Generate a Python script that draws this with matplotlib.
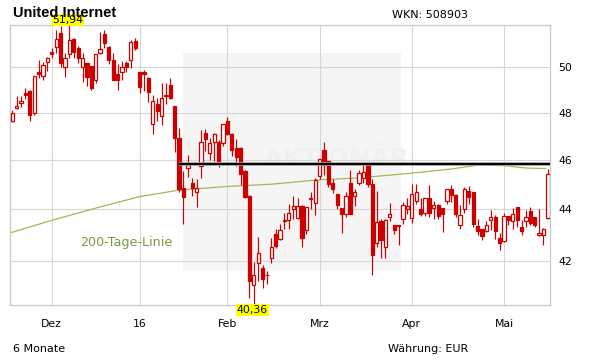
import matplotlib
matplotlib.use('Agg')
import matplotlib.pyplot as plt
import matplotlib.transforms as mtransforms
from matplotlib.patches import Rectangle
from matplotlib.ticker import NullLocator, FixedLocator
import numpy as np

W, H = 611, 364

opens = [47.64, 48.18, 48.41, 48.84, 48.92, 47.98, 49.78, 49.62, 50.23, 50.68,
         50.93, 51.56, 50.00, 50.60, 51.31, 50.86, 50.00, 50.18, 50.06, 49.44,
         50.63, 51.51, 50.90, 50.33, 49.69, 49.78, 50.19, 50.31, 51.19, 49.78,
         49.78, 49.53, 47.50, 48.38, 47.86, 48.78, 49.22, 48.27, 46.93, 44.85,
         45.66, 45.05, 44.68, 45.73, 47.14, 46.27, 46.75, 46.76, 46.72, 47.64,
         47.07, 46.51, 46.51, 45.52, 44.51, 41.08, 41.90, 41.74, 41.47, 42.11,
         43.04, 42.85, 43.58, 43.56, 43.99, 43.65, 44.12, 43.17, 44.45, 44.24,
         45.32, 46.40, 45.94, 45.05, 44.61, 44.04, 43.82, 45.05, 44.51, 45.05,
         45.25, 45.82, 45.00, 42.66, 43.53, 42.53, 43.69, 43.36, 43.36, 43.62,
         43.99, 43.65, 44.32, 43.99, 43.86, 44.44, 44.05, 44.18, 44.04, 44.32,
         44.79, 44.58, 43.38, 44.01, 44.72, 44.68, 43.34, 43.23, 43.13, 43.59,
         43.69, 42.87, 42.75, 43.72, 43.52, 44.08, 43.30, 43.52, 43.92, 43.69,
         42.98, 43.00, 43.65]
highs = [48.10, 48.74, 48.74, 49.08, 48.99, 49.61, 50.33, 50.23, 50.45, 50.89,
         51.69, 51.88, 50.63, 51.94, 51.34, 50.97, 50.63, 50.21, 50.06, 50.58,
         51.62, 51.69, 50.98, 50.63, 50.14, 50.28, 50.28, 51.24, 51.34, 49.80,
         49.88, 49.58, 48.78, 48.63, 49.29, 49.29, 49.53, 48.27, 47.32, 45.54,
         46.18, 45.24, 45.21, 47.25, 47.28, 46.93, 47.14, 46.82, 47.50, 47.83,
         47.14, 46.86, 46.55, 45.60, 44.55, 41.97, 42.91, 41.83, 41.62, 42.87,
         43.23, 43.42, 43.86, 44.20, 44.54, 44.44, 44.17, 44.08, 44.70, 45.24,
         46.05, 46.75, 45.95, 45.21, 44.62, 44.05, 44.68, 45.59, 44.81, 45.60,
         45.77, 45.86, 45.20, 44.74, 43.62, 43.62, 44.24, 43.38, 43.38, 44.30,
         44.44, 45.01, 45.01, 44.44, 44.45, 44.97, 44.34, 44.20, 44.05, 44.82,
         44.97, 44.60, 44.17, 44.89, 44.93, 44.70, 43.62, 43.23, 43.52, 43.96,
         43.75, 43.07, 43.86, 43.73, 44.04, 44.10, 43.56, 43.96, 44.08, 43.70,
         43.99, 43.26, 45.62]
lows = [47.60, 48.15, 48.22, 48.57, 47.64, 47.90, 49.51, 49.41, 49.85, 50.40,
        50.66, 50.03, 49.58, 50.43, 50.43, 50.18, 49.35, 49.17, 49.00, 49.30,
        50.60, 50.89, 50.16, 49.41, 49.00, 49.44, 49.80, 49.98, 50.78, 48.85,
        48.92, 48.48, 47.07, 47.64, 47.47, 48.38, 48.60, 46.31, 44.70, 43.42,
        45.28, 44.51, 44.08, 45.24, 46.37, 46.00, 45.97, 45.69, 46.58, 47.05,
        46.17, 45.76, 44.97, 44.45, 40.63, 40.36, 41.24, 40.97, 41.12, 41.90,
        42.50, 42.79, 43.23, 43.23, 43.62, 43.62, 42.53, 43.04, 44.01, 43.75,
        45.21, 45.37, 44.87, 44.65, 44.01, 43.07, 43.69, 43.80, 44.14, 44.97,
        45.05, 44.90, 41.46, 42.53, 42.11, 42.11, 43.52, 43.04, 42.60, 43.42,
        43.82, 43.46, 44.20, 43.72, 43.72, 43.70, 43.62, 43.60, 43.11, 44.20,
        44.28, 43.70, 43.23, 43.86, 44.20, 43.30, 43.00, 42.79, 43.09, 43.17,
        42.83, 42.41, 42.70, 43.38, 43.23, 43.30, 43.00, 43.30, 43.36, 43.30,
        42.95, 42.62, 43.60]
closes = [48.00, 48.27, 48.52, 48.76, 47.90, 49.61, 49.70, 50.09, 50.44, 50.60,
          51.31, 50.18, 50.44, 51.24, 50.68, 50.40, 50.40, 49.58, 49.07, 50.58,
          50.81, 51.09, 50.31, 49.41, 49.44, 50.00, 50.00, 51.13, 50.89, 49.14,
          49.70, 48.90, 48.49, 48.05, 48.63, 48.72, 48.65, 46.93, 44.81, 44.50,
          45.78, 44.84, 44.84, 46.76, 46.89, 46.72, 47.07, 45.97, 47.49, 47.07,
          46.41, 46.10, 45.41, 44.50, 41.24, 41.48, 42.28, 41.30, 41.45, 42.53,
          42.56, 43.19, 43.54, 43.85, 44.14, 44.12, 42.87, 44.08, 44.42, 45.18,
          46.03, 45.78, 45.00, 44.79, 44.18, 43.82, 44.51, 43.82, 44.68, 45.45,
          45.48, 45.00, 42.21, 43.49, 42.79, 43.59, 43.82, 43.17, 43.32, 44.18,
          44.14, 44.61, 44.68, 43.82, 44.44, 43.86, 44.18, 43.72, 43.79, 44.79,
          44.58, 43.79, 43.75, 44.79, 44.47, 43.42, 43.13, 42.95, 43.38, 43.69,
          43.13, 42.68, 43.72, 43.56, 43.82, 43.56, 43.13, 43.69, 43.45, 43.36,
          43.07, 43.23, 45.41]

# 200-day moving average, read at sample points (candle index, value)
ma_idx = [0.55, 10, 20, 30, 39, 50, 60, 71, 79.5, 92, 101, 107, 113, 118, 122.5]
ma_val = [43.07, 43.56, 44.04, 44.50, 44.76, 44.91, 45.00, 45.18, 45.25, 45.45,
          45.62, 45.78, 45.76, 45.66, 45.64]

month_ticks = [10, 30, 50, 71, 92, 113]
month_labels = ['Dez', '16', 'Feb', 'Mrz', 'Apr', 'Mai']
y_ticks = [42, 44, 46, 48, 50]
resistance = 45.82
resistance_start = 39

RED = '#cc0000'
GRID = '#d6d6d6'

fig = plt.figure(figsize=(W / 100, H / 100), dpi=100)
ax = fig.add_axes([10.3 / W, (H - 305) / H, 540 / W, 280 / H])
ax.set_yscale('log')

n = len(opens)
idx = np.arange(1, n + 1)
o = np.array(opens); c = np.array(closes)
hi = np.array(highs); lo = np.array(lows)

ax.set_xlim(0.55, n + 0.55)
ax.set_ylim(lo.min(), hi.max())

# watermark background block
ax.add_patch(Rectangle((0.319, 0.125), 0.4045, 0.776, transform=ax.transAxes,
                       facecolor='#f5f5f5', edgecolor='none', zorder=0.2))
ax.text(0.335, 0.52, 'DER', transform=ax.transAxes, fontsize=18, fontweight='bold',
        color='#f0f0f0', ha='left', va='center', zorder=0.3)
ax.text(0.47, 0.52, 'AKTIONÄR', transform=ax.transAxes, fontsize=18, fontweight='bold',
        color='#f0f0f0', ha='left', va='center', zorder=0.3)

# grid
for t in month_ticks:
    ax.axvline(t, color=GRID, lw=0.8, zorder=1)
for t in y_ticks:
    ax.axhline(t, color=GRID, lw=0.8, zorder=1)

# 200-day line
ax.plot(ma_idx, ma_val, color='#9cba56', lw=0.9, zorder=2)

# candles
ax.vlines(idx, lo, hi, color=RED, lw=0.85, zorder=3)
up = c >= o
bottoms = np.minimum(o, c)
heights = np.maximum(np.abs(c - o), 0.015)
ax.bar(idx, heights, bottom=bottoms, width=0.74,
       color=np.where(up, 'white', RED), edgecolor=RED, linewidth=0.9, zorder=4)

# resistance line
ax.plot([resistance_start, n + 0.55], [resistance, resistance], color='#9a9a9a',
        lw=2.6, zorder=5, solid_capstyle='butt')
ax.plot([resistance_start, n + 0.55], [resistance, resistance], color='black',
        lw=1.4, zorder=6, solid_capstyle='butt')

# axes styling
for s in ax.spines.values():
    s.set_color('#c8c8c8')
    s.set_linewidth(0.9)
ax.yaxis.set_minor_locator(NullLocator())
ax.yaxis.set_major_locator(FixedLocator(y_ticks))
ax.set_yticklabels([str(v) for v in y_ticks])
ax.yaxis.tick_right()
ax.tick_params(axis='y', length=0, pad=5.5, labelsize=7.8, colors='black')
ax.set_xticks([])

tr = mtransforms.blended_transform_factory(ax.transData, fig.transFigure)
for t, lab in zip(month_ticks, month_labels):
    ax.text(t, 1 - 327 / H, lab, transform=tr, ha='center', va='baseline',
            fontsize=7.8, color='black')

# max / min labels
imax = int(np.argmax(hi)); imin = int(np.argmin(lo))
trx = mtransforms.blended_transform_factory(ax.transData, ax.transAxes)
ax.text(idx[imax] - 0.3, 1.0, f'{hi[imax]:.2f}'.replace('.', ','), transform=trx,
        ha='center', va='bottom', fontsize=7.8, color='black',
        bbox=dict(boxstyle='square,pad=0.05', fc='#ffff00', ec='none'), zorder=10)
ax.text(idx[imin] - 0.3, 0.0, f'{lo[imin]:.2f}'.replace('.', ','), transform=trx,
        ha='center', va='top', fontsize=7.8, color='black',
        bbox=dict(boxstyle='square,pad=0.05', fc='#ffff00', ec='none'), zorder=10)

# texts
fig.text(12.7 / W, 1 - 17.3 / H, 'United Internet', fontsize=10.5, fontweight='bold',
         family='Liberation Sans', ha='left', va='baseline', color='black')
fig.text(392 / W, 1 - 18.3 / H, 'WKN: 508903', fontsize=8, ha='left', va='baseline')
fig.text(12.7 / W, 1 - 351.5 / H, '6 Monate', fontsize=8, ha='left', va='baseline')
fig.text(388 / W, 1 - 351.5 / H, 'Währung: EUR', fontsize=8, ha='left', va='baseline')
fig.text(80 / W, 1 - 246 / H, '200-Tage-Linie', fontsize=9.2, color='#7b9a3e',
         ha='left', va='baseline')

fig.savefig('out.png', dpi=100, facecolor='white')
